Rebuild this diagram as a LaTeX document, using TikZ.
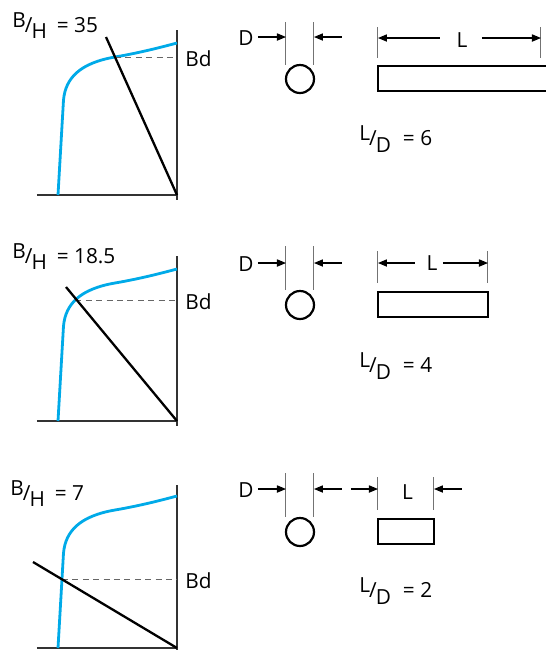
\documentclass[tikz,border=0pt]{standalone}
\usepackage{fontspec}
\setmainfont{Open Sans}
\usetikzlibrary{arrows.meta}
\definecolor{curveblue}{RGB}{0,170,232}
\begin{document}
\begin{tikzpicture}[x=0.5pt,y=-0.5pt,font=\fontsize{10.4}{12}\selectfont,
  axis/.style={draw=black!80,line width=0.6pt},
  magcurve/.style={draw=curveblue,line width=1.4pt},
  loadline/.style={draw=black,line width=1.15pt},
  bdline/.style={draw=black!60,dash pattern=on 3pt off 2.2pt,line width=0.5pt},
  extline/.style={draw=black!55,line width=0.5pt},
  dimarrow/.style={-{Triangle[length=4.5pt,width=3.6pt]},line width=0.55pt},
  part/.style={draw=black,line width=1.1pt}]
\useasboundingbox (0,0) rectangle (546,650);

\begin{scope}
\draw[axis] (37,195) -- (178,195);
\draw[axis] (177,30) -- (177,200);
\draw[magcurve] (58,195) -- (63.5,100) .. controls (65.5,78) and (80,63) .. (115,57) .. controls (140,52.7) and (160,47.5) .. (177,43);
\draw[bdline] (115,57) -- (177,57);
\draw[loadline] (106,37) -- (177,195);
\node[anchor=base west,inner sep=0pt] (bh1) at (12,32) {\raisebox{2.5pt}{B}\kern-0.5pt/\kern-0.5pt\raisebox{-3pt}{H}\hspace{5pt}= 35};
\node[anchor=base west,inner sep=0pt] (bd1) at (185,66) {Bd};

\node[anchor=base east,inner sep=0pt] (d1) at (254,45) {D};
\draw[extline] (286,22) -- (286,65);
\draw[extline] (314,22) -- (314,65);
\draw[dimarrow] (258,37) -- (286,37);
\draw[dimarrow] (342,37) -- (314,37);
\draw[part] (300,79) circle[radius=7pt];

\draw[extline] (378,27) -- (378,58);
\draw[extline] (541,27) -- (541,58);
\draw[dimarrow] (440,38) -- (378,38);
\draw[dimarrow] (482,38) -- (541,38);
\node[anchor=base,inner sep=0pt] (l1) at (462,47) {L};
\draw[part] (547,66) -- (378,66) -- (378,91) -- (547,91);
\node[anchor=base west,inner sep=0pt] (ld1) at (359,145) {\raisebox{2.5pt}{L}\kern-0.5pt/\kern-0.5pt\raisebox{-3.5pt}{D}\hspace{6pt}= 6};
\end{scope}

\begin{scope}[shift={(0,226)}]
\draw[axis] (37,195) -- (178,195);
\draw[axis] (177,30) -- (177,200);
\draw[magcurve] (58,195) -- (63.5,100) .. controls (65.5,78) and (80,63) .. (115,57) .. controls (140,52.7) and (160,47.5) .. (177,43);
\draw[bdline] (75.4,74) -- (177,74);
\draw[loadline] (66,61) -- (177,195);
\node[anchor=base west,inner sep=0pt] (bh2) at (12,37) {\raisebox{2.5pt}{B}\kern-0.5pt/\kern-0.5pt\raisebox{-3pt}{H}\hspace{5pt}= 18.5};
\node[anchor=base west,inner sep=0pt] (bd2) at (185,83) {Bd};

\node[anchor=base east,inner sep=0pt] (d2) at (254,45) {D};
\draw[extline] (286,20) -- (286,64);
\draw[extline] (314,20) -- (314,64);
\draw[dimarrow] (258,37) -- (286,37);
\draw[dimarrow] (342,37) -- (314,37);
\draw[part] (300,79) circle[radius=7pt];

\draw[extline] (378,25) -- (378,57);
\draw[extline] (488,25) -- (488,57);
\draw[dimarrow] (415,37) -- (378,37);
\draw[dimarrow] (443,37) -- (488,37);
\node[anchor=base,inner sep=0pt] (l2) at (432,44) {L};
\draw[part] (378,66) rectangle (488,91);
\node[anchor=base west,inner sep=0pt] (ld2) at (359,146) {\raisebox{2.5pt}{L}\kern-0.5pt/\kern-0.5pt\raisebox{-3.5pt}{D}\hspace{6pt}= 4};
\end{scope}

\begin{scope}[shift={(0,453)}]
\draw[axis] (37,195) -- (178,195);
\draw[axis] (177,32) -- (177,200);
\draw[magcurve] (58,195) -- (63.5,100) .. controls (65.5,78) and (80,63) .. (115,57) .. controls (140,52.7) and (160,47.5) .. (177,43);
\draw[bdline] (62,126) -- (177,126);
\draw[loadline] (33,109) -- (177,195);
\node[anchor=base west,inner sep=0pt] (bh3) at (10,47) {\raisebox{2.5pt}{B}\kern-0.5pt/\kern-0.5pt\raisebox{-3pt}{H}\hspace{5pt}= 7};
\node[anchor=base west,inner sep=0pt] (bd3) at (185,135) {Bd};

\node[anchor=base east,inner sep=0pt] (d3) at (254,44) {D};
\draw[extline] (286,20) -- (286,64);
\draw[extline] (314,20) -- (314,64);
\draw[dimarrow] (258,36) -- (286,36);
\draw[dimarrow] (342,36) -- (314,36);
\draw[part] (300,79) circle[radius=7pt];

\draw[extline] (378,24) -- (378,57);
\draw[extline] (434,24) -- (434,57);
\draw[dimarrow] (351,36) -- (378,36);
\draw[dimarrow] (462,36) -- (434,36);
\node[anchor=base,inner sep=0pt] (l3) at (407.5,46) {L};
\draw[part] (378,66) rectangle (434,91);
\node[anchor=base west,inner sep=0pt] (ld3) at (359,144) {\raisebox{2.5pt}{L}\kern-0.5pt/\kern-0.5pt\raisebox{-3.5pt}{D}\hspace{6pt}= 2};
\end{scope}
\end{tikzpicture}
\end{document}
